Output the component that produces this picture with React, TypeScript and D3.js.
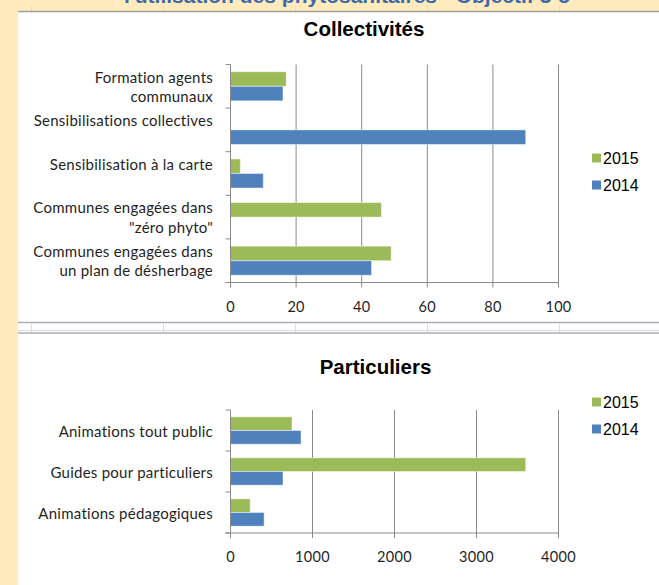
import React from "react";
import * as d3 from "d3";

const series = ["2015", "2014"];
const seriesColors = ["#9BBB59", "#4F81BD"];

const cats1 = [
  ["Formation agents", "communaux"],
  ["Sensibilisations collectives"],
  ["Sensibilisation à la carte"],
  ["Communes engagées dans", "\"zéro phyto\""],
  ["Communes engagées dans", "un plan de désherbage"],
];
const vals1_2015 = [17, 0, 3, 46, 49];
const vals1_2014 = [16, 90, 10, 0, 43];
const ticks1 = [0, 20, 40, 60, 80, 100];

const cats2 = [
  ["Animations tout public"],
  ["Guides pour particuliers"],
  ["Animations pédagogiques"],
];
const vals2_2015 = [750, 3600, 240];
const vals2_2014 = [860, 640, 410];
const ticks2 = [0, 1000, 2000, 3000, 4000];

const LABEL_FONT = "Lato, 'Open Sans', sans-serif";
const ARIAL = "'Liberation Sans', Arial, sans-serif";
const AXIS = "#8a8a8a";

type ChartProps = {
  title: string;
  titleY: number;
  titleX: number;
  cats: string[][];
  v2015: number[];
  v2014: number[];
  ticks: number[];
  max: number;
  top: number;
  bottom: number;
  tickLabelY: number;
  legendY: number;
  twoLineLabels: boolean;
};

function BarChart(p: ChartProps) {
  const x = d3.scaleLinear().domain([0, p.max]).range([230.5, 558.5]);
  const idx = p.cats.map((_, i) => String(i));
  const y = d3.scaleBand().domain(idx).range([p.top, p.bottom]).paddingInner(0).paddingOuter(0);
  const ys = d3.scaleBand().domain(series).range([0, y.bandwidth()]).paddingInner(0).paddingOuter(0.5);
  const data = [p.v2015, p.v2014];
  const lh = 19.5;
  const boundaries = d3.range(p.cats.length + 1).map((i) => p.top + i * y.step());
  return (
    <g>
      <text x={p.titleX} y={p.titleY} textAnchor="middle" dominantBaseline="central"
        fontFamily={ARIAL} fontWeight="bold" fontSize={20.5} fill="#000">{p.title}</text>
      {p.ticks.filter((t) => t > 0).map((t) => (
        <line key={"g" + t} x1={x(t)} x2={x(t)} y1={p.top} y2={p.bottom} stroke={AXIS} strokeWidth={1} />
      ))}
      {data.map((vals, si) =>
        vals.map((v, ci) =>
          v > 0 ? (
            <rect key={si + "-" + ci} x={x(0)} y={(y(String(ci)) as number) + (ys(series[si]) as number)}
              width={x(v) - x(0)} height={ys.bandwidth()} fill={seriesColors[si]}
              stroke="#ffffff" strokeOpacity={0.45} strokeWidth={1} />
          ) : null
        )
      )}
      <line x1={x(0)} x2={x(0)} y1={p.top} y2={p.bottom + 5} stroke={AXIS} strokeWidth={1} />
      <line x1={x(0) - 5} x2={x(p.max)} y1={p.bottom} y2={p.bottom} stroke={AXIS} strokeWidth={1} />
      {boundaries.map((b, i) => (
        <line key={"lt" + i} x1={x(0) - 5} x2={x(0)} y1={b} y2={b} stroke={AXIS} strokeWidth={1} />
      ))}
      {p.ticks.map((t) => (
        <line key={"bt" + t} x1={x(t)} x2={x(t)} y1={p.bottom} y2={p.bottom + 5} stroke={AXIS} strokeWidth={1} />
      ))}
      {p.ticks.map((t) => (
        <text key={"tl" + t} x={x(t)} y={p.tickLabelY} textAnchor="middle" dominantBaseline="central"
          fontFamily={LABEL_FONT} fontSize={14.5} letterSpacing={0.3} fill="#1f1f1f">{t}</text>
      ))}
      {p.cats.map((lines, ci) => {
        const c = (y(String(ci)) as number) + y.bandwidth() / 2;
        const n = p.twoLineLabels ? 2 : lines.length;
        return lines.map((ln, li) => (
          <text key={"c" + ci + "-" + li} x={213} y={c + (li - (n - 1) / 2) * lh}
            textAnchor="end" dominantBaseline="central" fontFamily={LABEL_FONT} fontSize={15}
            letterSpacing={0.25} fill="#1f1f1f">{ln}</text>
        ));
      })}
      {series.map((s, i) => (
        <g key={"lg" + s}>
          <rect x={592} y={p.legendY + i * 27 - 4.5} width={9} height={9} fill={seriesColors[i]} />
          <text x={603} y={p.legendY + i * 27} dominantBaseline="central" fontFamily={ARIAL} fontSize={16} fill="#000">{s}</text>
        </g>
      ))}
    </g>
  );
}

export default function App() {
  const cellXs = [31.5, 163.5, 295.5, 427.5, 559.5];
  return (
    <svg width={659} height={585} style={{ position: "absolute", left: 0, top: 0 }}>
      <rect x={0} y={0} width={659} height={585} fill="#FFEBBE" />
      <defs>
        <clipPath id="topclip"><rect x={0} y={0} width={659} height={11} /></clipPath>
      </defs>
      <text x={347} y={3} textAnchor="middle" fontFamily={ARIAL} fontWeight="bold" fontSize={21}
        fill="#3F6AA6" clipPath="url(#topclip)">l'utilisation des phytosanitaires - Objectif 3-5</text>
      {cellXs.map((cx) => (
        <line key={"tv" + cx} x1={cx} x2={cx} y1={6} y2={11} stroke="#e6dcc6" strokeWidth={1} />
      ))}
      <rect x={18} y={12} width={641} height={573} fill="#ffffff" />
      <line x1={18} x2={659} y1={11.5} y2={11.5} stroke="#a0a0a0" strokeWidth={1.5} />
      <line x1={18} x2={659} y1={322.5} y2={322.5} stroke="#adadad" strokeWidth={1.5} />
      <line x1={18} x2={659} y1={330.5} y2={330.5} stroke="#d9dcec" strokeWidth={1} />
      <line x1={18} x2={659} y1={333} y2={333} stroke="#adadad" strokeWidth={1.5} />
      {cellXs.map((cx) => (
        <line key={"sv" + cx} x1={cx} x2={cx} y1={323} y2={332} stroke="#d9dcec" strokeWidth={1} />
      ))}
      <BarChart title="Collectivités" titleX={364} titleY={28} cats={cats1} v2015={vals1_2015} v2014={vals1_2014}
        ticks={ticks1} max={100} top={64.5} bottom={282.5} tickLabelY={306} legendY={158} twoLineLabels={true} />
      <BarChart title="Particuliers" titleX={375.5} titleY={366} cats={cats2} v2015={vals2_2015} v2014={vals2_2014}
        ticks={ticks2} max={4000} top={410} bottom={533} tickLabelY={556} legendY={402} twoLineLabels={false} />
    </svg>
  );
}
